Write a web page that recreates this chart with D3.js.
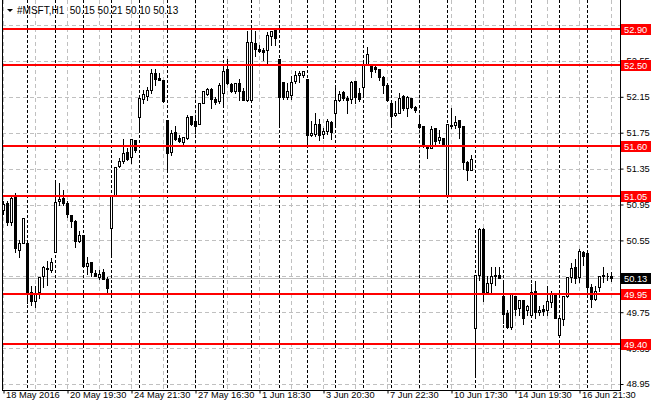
<!DOCTYPE html>
<html><head><meta charset="utf-8">
<script src="https://cdn.jsdelivr.net/npm/d3@7"></script>
<style>
body{margin:0;background:#fff;}
svg{display:block;font-family:"Liberation Sans",Arial,sans-serif;font-size:9.3px;}
</style></head><body>
<svg id="chart" width="660" height="410"></svg>
<script>
// H1 bars, 18 May - 17 Jun 2016
const open = [50.89,50.97,50.75,51.04,50.44,50.52,50.52,49.97,49.88,49.97,50.15,50.23,50.22,50.42,50.99,51.02,50.97,50.83,50.77,50.54,
50.61,50.27,50.31,50.19,50.14,50.20,50.12,50.69,51.06,51.38,51.44,51.54,51.48,51.67,51.92,52.13,52.16,52.23,52.42,52.36,
52.34,51.89,51.53,51.76,51.69,51.65,51.69,51.94,51.88,51.85,52.08,52.18,52.24,52.13,52.10,52.19,52.46,52.29,52.22,52.30,
52.21,52.11,52.11,52.75,52.68,52.67,52.67,52.83,52.89,52.57,52.32,52.15,52.17,52.33,52.39,52.39,52.35,51.72,51.74,51.85,
51.74,51.77,51.87,51.97,52.11,52.20,52.14,52.12,52.33,52.19,52.26,52.50,52.50,52.48,52.46,52.37,52.28,52.08,51.95,51.97,
52.16,52.02,52.14,52.04,51.85,51.82,51.60,51.58,51.80,51.67,51.69,51.06,51.84,51.84,51.89,51.82,51.42,51.33,49.57,50.16,
50.68,49.97,50.07,50.15,50.16,49.93,49.74,49.58,49.93,49.80,49.89,49.78,49.72,49.99,49.75,49.79,49.78,49.86,49.95,49.50,
49.67,49.93,50.14,50.25,50.14,50.42,50.41,50.03,49.90,50.03,50.15,50.15,50.15];
const high = [51.00,51.00,51.07,51.09,50.57,50.81,50.52,50.05,50.05,50.15,50.28,50.33,50.36,51.20,51.20,51.12,51.00,50.84,50.79,50.67,
50.61,50.38,50.31,50.23,50.23,50.24,50.15,51.04,51.37,51.48,51.69,51.59,51.69,51.68,52.14,52.24,52.27,52.47,52.47,52.43,
52.34,51.89,51.79,51.84,51.74,51.71,51.96,51.95,51.95,52.08,52.23,52.26,52.26,52.16,52.32,52.49,52.58,52.31,52.31,52.36,
52.26,52.89,52.89,52.89,52.74,52.71,52.88,52.89,52.90,52.57,52.32,52.32,52.39,52.45,52.45,52.45,52.35,51.89,51.98,51.91,
51.81,51.91,51.89,52.26,52.23,52.23,52.17,52.34,52.34,52.26,52.56,52.72,52.52,52.50,52.47,52.39,52.31,52.11,52.11,52.20,
52.18,52.17,52.15,52.06,51.95,51.82,51.60,51.84,51.81,51.79,51.69,51.86,52.04,51.95,51.89,51.82,51.45,51.51,50.16,50.70,
50.70,50.16,50.26,50.26,50.27,50.09,49.79,49.97,49.94,49.90,49.89,49.84,50.07,50.11,49.83,49.84,50.05,50.00,49.96,49.70,
49.94,50.15,50.31,50.35,50.47,50.44,50.41,50.07,50.05,50.16,50.26,50.20,50.21];
const low = [50.84,50.72,50.72,50.42,50.37,50.52,49.85,49.83,49.81,49.91,50.03,50.05,50.20,50.42,50.94,50.95,50.81,50.70,50.48,50.53,
50.26,50.18,50.15,50.15,50.12,50.12,49.97,50.37,51.06,51.37,51.41,51.45,51.41,51.54,51.78,52.08,52.11,52.19,52.28,52.34,
52.09,51.35,51.50,51.67,51.65,51.61,51.68,51.84,51.75,51.85,52.08,52.17,52.02,52.07,52.08,52.06,52.29,52.20,52.19,52.11,
52.11,52.10,52.11,52.60,52.65,52.56,52.52,52.73,52.73,51.82,52.13,52.13,52.13,52.30,52.32,52.37,51.59,51.71,51.71,51.67,
51.69,51.74,51.68,51.84,52.10,52.11,51.97,52.08,52.08,52.10,52.17,52.50,52.37,52.43,52.34,52.19,52.10,51.84,51.94,51.97,
52.00,51.94,52.02,51.98,51.80,51.59,51.47,51.58,51.60,51.63,51.61,51.05,51.80,51.80,51.69,51.35,51.22,51.33,49.04,50.11,
49.87,49.96,49.96,50.05,50.13,49.63,49.57,49.56,49.72,49.72,49.62,49.72,49.70,49.68,49.72,49.72,49.72,49.81,49.68,49.50,
49.61,49.92,50.09,50.07,50.09,50.28,50.01,49.81,49.89,49.99,50.09,50.11,50.10];
const close = [50.96,50.76,51.02,50.46,50.52,50.80,49.97,49.87,49.96,50.14,50.25,50.24,50.31,50.98,51.01,50.97,50.84,50.77,50.54,50.61,
50.26,50.30,50.20,50.15,50.18,50.12,50.02,51.04,51.37,51.43,51.52,51.46,51.68,51.56,52.14,52.18,52.23,52.42,52.35,52.34,
52.10,51.52,51.75,51.68,51.66,51.70,51.92,51.85,51.83,52.08,52.21,52.24,52.13,52.09,52.28,52.44,52.30,52.21,52.30,52.21,
52.11,52.76,52.76,52.68,52.66,52.65,52.84,52.88,52.81,52.15,52.15,52.22,52.32,52.39,52.42,52.44,51.72,51.75,51.85,51.72,
51.77,51.88,51.76,52.11,52.18,52.14,52.11,52.31,52.15,52.13,52.50,52.63,52.44,52.46,52.37,52.28,52.11,51.94,51.97,52.14,
52.02,52.15,52.04,52.00,51.81,51.60,51.58,51.79,51.66,51.70,51.61,51.85,51.83,51.87,51.81,51.42,51.33,51.46,50.16,50.68,
49.98,50.08,50.15,50.16,50.13,49.73,49.59,49.96,49.79,49.89,49.68,49.82,49.97,49.75,49.78,49.76,49.87,49.96,49.69,49.68,
49.93,50.14,50.24,50.13,50.43,50.38,50.03,49.90,49.99,50.15,50.16,50.15,50.13];

const dayStarts = [6,13,20,27,34,41,48,55,62,69,76,83,90,97,104,111,118,125,132,139,146];
const xTickBars = [0,16,32,48,64,80,96,112,128,144];
const xTickLabels = ["18 May 2016","20 May 19:30","24 May 21:30","27 May 16:30","1 Jun 18:30",
  "3 Jun 20:30","7 Jun 22:30","10 Jun 17:30","14 Jun 19:30","16 Jun 21:30"];
const priceTicks = [52.95,52.55,52.15,51.75,51.35,50.95,50.55,50.15,49.75,49.35,48.95];
const hiddenTicks = [52.95,50.15];   // fully covered by the price tags in the terminal
const levels = [52.90,52.50,51.60,51.05,49.95,49.40];
const lastPrice = 50.13;
const header = "#MSFT,H1  50.15 50.21 50.10 50.13";

const svg = d3.select("#chart");
const x = d3.scaleLinear().domain([0, open.length - 1]).range([3.5, 611.5]);
const y = d3.scaleLinear().domain([48.95, 52.95]).range([384, 25]);
const py = v => Math.round(y(v)) + 0.5;
const fmt = d3.format(".2f");
const font = "Liberation Sans, Arial, sans-serif";

// grid
const grid = svg.append("g").attr("shape-rendering", "crispEdges");
grid.selectAll("line.h").data(priceTicks).enter().append("line")
  .attr("x1", 2).attr("x2", 620).attr("y1", d => py(d)).attr("y2", d => py(d))
  .attr("stroke", "#c0c0c0").attr("stroke-dasharray", "4,3");
grid.selectAll("line.v").data(d3.range(0, open.length, 8)).enter().append("line")
  .attr("x1", d => x(d)).attr("x2", d => x(d)).attr("y1", 0).attr("y2", 390)
  .attr("stroke", "#c0c0c0").attr("stroke-dasharray", "4,3");
grid.selectAll("line.s").data(dayStarts).enter().append("line")
  .attr("x1", d => x(d)).attr("x2", d => x(d)).attr("y1", 0).attr("y2", 390)
  .attr("stroke", "#000").attr("stroke-dasharray", "3,2");

// bid line
grid.append("line").attr("x1", 2).attr("x2", 620)
  .attr("y1", py(lastPrice)).attr("y2", py(lastPrice)).attr("stroke", "#c0c0c0");

// candles
const bars = svg.append("g").attr("shape-rendering", "crispEdges")
  .selectAll("g").data(open.map((o, i) => i)).enter().append("g");
bars.append("line")
  .attr("x1", i => x(i)).attr("x2", i => x(i))
  .attr("y1", i => py(high[i])).attr("y2", i => py(low[i]))
  .attr("stroke", "#000");
bars.append("path")
  .attr("d", i => {
    const t = py(Math.max(open[i], close[i])), b = py(Math.min(open[i], close[i]));
    return `M${x(i) - 1},${t}H${x(i) + 1}V${b}H${x(i) - 1}Z`;
  })
  .attr("fill", i => close[i] >= open[i] ? "#fff" : "#000")
  .attr("stroke", "#000");

// red levels
svg.append("g").selectAll("line").data(levels).enter().append("line")
  .attr("x1", 2).attr("x2", 620).attr("y1", d => Math.round(y(d))).attr("y2", d => Math.round(y(d)))
  .attr("stroke", "#ff0000").attr("stroke-width", 2);

// frame
svg.append("path").attr("d", "M2.5,0V390.5H620.5V0")
  .attr("fill", "none").attr("stroke", "#000").attr("shape-rendering", "crispEdges");

// price axis
const yAxis = svg.append("g").attr("transform", "translate(620.5,0)")
  .call(d3.axisRight(y).tickValues(priceTicks).tickSize(3).tickPadding(3)
    .tickFormat(d => hiddenTicks.includes(d) ? "" : fmt(d)));
yAxis.select(".domain").remove();
yAxis.selectAll("text").attr("font-size", 9.3).attr("font-family", font).attr("fill", "#000");

// time axis
const xAxis = svg.append("g").attr("transform", "translate(0,390.5)")
  .call(d3.axisBottom(x).tickValues(xTickBars).tickSize(3).tickFormat((d, i) => xTickLabels[i]));
xAxis.select(".domain").remove();
xAxis.selectAll("text").attr("text-anchor", "start").attr("x", 2).attr("y", 0.5)
  .attr("font-size", 9.3).attr("font-family", font).attr("fill", "#000");

// price tags
const tags = svg.append("g").selectAll("g")
  .data(levels.map(v => ({v, bg: "#ff0000"})).concat([{v: lastPrice, bg: "#000"}]))
  .enter().append("g").attr("transform", d => `translate(621,${Math.round(y(d.v))})`);
tags.append("rect").attr("x", 0).attr("y", -5).attr("width", 30).attr("height", 11).attr("fill", d => d.bg);
tags.append("text").attr("x", 3).attr("y", 4).attr("fill", "#fff").text(d => fmt(d.v));

// header
svg.append("path").attr("d", "M7,9H13L10,12Z").attr("fill", "#000");
svg.append("text").attr("x", 17).attr("y", 14).attr("fill", "#000").attr("font-size", 10)
  .style("white-space", "pre").text(header);
</script>
</body></html>
